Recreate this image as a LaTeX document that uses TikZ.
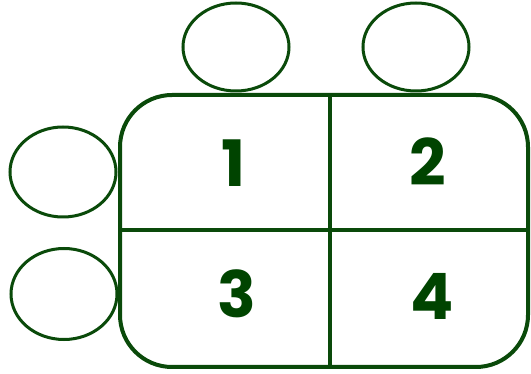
\documentclass[tikz,border=0pt]{standalone}
\usepackage{fontspec}
\setmainfont{Poppins}
\usetikzlibrary{shapes.geometric}
\definecolor{lgreen}{HTML}{0A4A0A}
\definecolor{dgreen}{HTML}{004400}
\tikzset{
  seat/.style={ellipse, draw=lgreen, line width=3pt, minimum width=106pt, minimum height=88pt, inner sep=0pt},
  num/.style={text=dgreen, font=\fontsize{64}{64}\selectfont\bfseries, inner sep=0pt},
  divider/.style={draw=lgreen, line width=3.5pt}
}
\begin{document}
\begin{tikzpicture}[x=1pt,y=-1pt]
\useasboundingbox (0,0) rectangle (531,374);
\fill[white] (0,0) rectangle (531,374);
\node[seat, minimum height=88pt] (s1) at (236,47) {};
\node[seat, minimum height=88pt] (s2) at (416,47) {};
\node[seat, minimum height=90pt] (s3) at (63,172) {};
\node[seat, minimum height=91pt] (s4) at (64,294) {};
\node[draw=lgreen, line width=4pt, rounded corners=52pt, minimum width=408pt, minimum height=272pt, inner sep=0pt] (table) at (324,231) {};
\coordinate (vt) at (330,95);
\coordinate (vb) at (330,366);
\coordinate (hl) at (table.west |- 0,230);
\coordinate (hr) at (table.east |- 0,230);
\draw[divider] (vt) -- (vb);
\draw[divider] (hl) -- (hr);
\node[num] (n1) at (234,163) {1};
\node[num] (n2) at (428,162) {2};
\node[num] (n3) at (237,294) {3};
\node[num] (n4) at (432,296) {4};
\end{tikzpicture}
\end{document}
